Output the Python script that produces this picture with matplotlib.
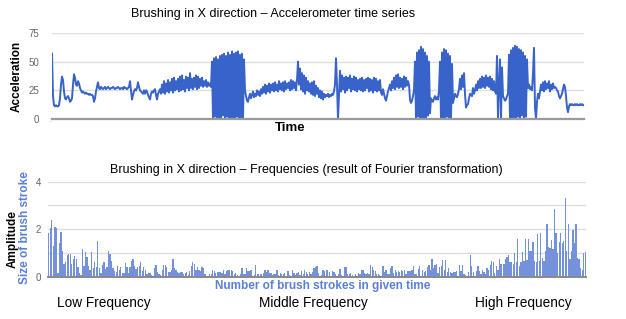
import numpy as np
import matplotlib
matplotlib.use("Agg")
import matplotlib.pyplot as plt

plt.rcParams['font.family'] = ['Liberation Sans', 'DejaVu Sans']

W, H = 626, 319

# accelerometer samples at one value per pixel column
accel = (
    [57]
    + [20, 12, 11, 12, 11, 11, 12]
    + [18, 30, 37, 34]
    + [24, 18, 17, 19]
    + [20, 18, 15, 16]
    + [18, 30, 39, 36]
    + [30, 29, 33, 31]
    + [27, 25, 23, 24, 23, 22]
    + [23, 22, 22, 21, 22, 21, 21, 20]
    + [15, 18, 24, 28, 32, 27]
    + [26, 28, 27, 26, 27, 28, 26, 27, 28, 27, 26, 27, 27, 28, 27,
       26, 27, 27, 28, 27, 26, 27, 27, 26, 28, 27, 27, 26, 27, 28]
    + [33, 25, 17, 21, 24, 26, 25, 27, 32, 28]
    + [25, 24, 23, 22, 25, 22, 25, 24, 21, 19, 17, 22, 24, 23, 25,
       26, 21, 17, 22, 24, 26, 22]
    + [30, 23, 33, 22, 31, 24, 34, 23, 32, 25, 35, 23, 36, 25, 33,
       26, 35, 24, 37, 25, 38, 26, 34, 24, 37, 27, 36, 25, 40, 27,
       35, 26, 36, 28, 38, 26, 37, 27, 35, 29, 36, 28, 33, 29, 34,
       28, 32, 29, 31, 28]
    + [50, 0, 53, 2, 54, 0, 52, 1, 55, 0, 56, 3, 57, 0, 55, 2, 58,
       0, 56, 0, 59, 1, 57, 0, 58, 2, 59, 0, 56, 1, 57, 0, 52]
    + [25, 20, 16, 15, 19, 22, 18, 21, 24, 19, 22, 20, 25, 21, 24, 20, 26]
    + [22, 28, 23, 30, 22, 29, 24, 31, 23, 30, 25, 31, 24, 32, 25,
       30, 24, 33, 26, 31, 25, 32, 24, 33, 26, 31, 27, 32, 25, 34,
       26, 33, 27, 32, 25, 34]
    + [50, 30, 44, 26, 40, 24, 38, 22, 36, 25, 33, 24, 31, 22, 32,
       21, 33, 20, 29, 22, 27, 19, 25, 18, 24, 17]
    + [22, 19, 21, 20, 22, 19, 21, 20, 22, 21, 24, 30]
    + [53, 30, 0, 20]
    + [42, 24, 38, 26, 36, 23, 37, 25, 36, 27, 38, 24, 35, 26, 37,
       25, 36, 24, 34, 26, 35, 25, 36, 24, 34, 25, 35, 27, 36, 24,
       35, 25, 34, 23, 36, 25, 35, 24, 33, 25, 34, 23]
    + [21, 26, 22, 18, 16, 20, 24, 27]
    + [30, 25, 33, 27, 36, 26, 38, 28, 39, 27, 36, 28, 35, 26, 37,
       28, 36, 29, 33, 30]
    + [17, 14, 16, 20, 25]
    + [50, 0, 58, 2, 60, 0, 63, 0, 61, 1, 58, 0, 55, 3, 50, 5]
    + [18, 16, 15, 18, 20, 17, 19, 17, 25]
    + [50, 0, 58, 1, 61, 0, 60, 2, 57, 0, 55, 0, 48]
    + [14, 18, 22, 20, 19, 22, 26]
    + [35, 26, 38, 28, 40, 22]
    + [10, 12, 13, 18, 22, 21]
    + [20, 27, 22, 25, 30, 25, 33, 27, 35, 27, 37, 28, 36, 27, 38,
       29, 36, 28, 37, 26, 35, 25, 33, 24, 22]
    + [55, 0, 30, 52, 0, 45, 20]
    + [18, 16, 17, 20, 22]
    + [56, 0, 60, 0, 62, 1, 64, 0, 63, 2, 61, 0, 60, 3, 58, 0, 55, 2, 52]
    + [27, 30, 26, 28, 25]
    + [40, 62, 10, 0, 15]
    + [22, 18, 24, 30, 25, 32, 24, 33, 26, 31, 27, 33, 24, 30, 26, 31, 27, 28]
    + [27, 25, 24, 20, 18, 20, 22, 26, 30, 28, 20, 10]
    + [6, 11, 13, 12, 13, 12, 12, 13, 12, 13, 12, 12, 13, 12, 13, 12, 12]
)

# Fourier amplitudes, low -> high frequency
amp_low = [
    1.85, 2.03, 2.39, 1.3, 2.08, 2.03, 0.14, 1.4, 1.9, 1.08,
    0.53, 0.6, 0.9, 0.95, 0.95, 0.53, 0.74, 0.87, 0.73, 0.4,
    0.14, 0.07, 1.15, 0.45, 1.05, 0.81, 0.45, 0.28, 1.05, 0.35,
    0.6, 0.4, 1.5, 0.35, 0.17, 0.49, 0.6, 0.31, 0.4, 1.08,
    0.95, 0.66, 0.35, 0.25, 0.21, 0.45, 0.28, 0.4, 0.17, 0.14,
    0.56, 0.4, 0.17, 0.42, 0.66, 0.73, 0.45, 0.31, 0.4, 0.45,
    0.6, 0.25, 0.4, 0.28, 0.11, 0.17, 0.14, 0.07, 0.03, 0.35,
    0.49, 0.21, 0.11, 0.07, 0.28, 0.49, 0.49, 0.4, 0.21, 0.21,
    0.28, 0.73, 0.35, 0.28, 0.21, 0.17,
]
amp_mid1 = [
    0.2, 0.2, 0.1, 0.15, 0.2, 0.08, 0.25, 0.45, 0.63, 0.55,
    0.3, 0.4, 0.3, 0.22, 0.42, 0.35, 0.1, 0.05, 0.05, 0.12,
    0.1, 0.28, 0.22, 0.15, 0.2, 0.18, 0.2, 0.15, 0.28, 0.1,
    0.25, 0.3, 0.3, 0.28, 0.25, 0.12, 0.15, 0.08, 0.05, 0.12,
    0.38, 0.1, 0.12, 0.35, 0.25, 0.25, 0.28, 0.05, 0.08, 0.48,
    0.12, 0.1, 0.12, 0.1, 0.15, 0.3, 0.18, 0.3, 0.15, 0.15,
    0.08, 0.1, 0.1, 0.3, 0.08, 0.15, 0.12, 0.1, 0.15, 0.05,
    0.25, 0.08, 0.05, 0.3, 0.15, 0.08, 0.15, 0.2, 0.08, 0.25,
    0.12, 0.28, 0.18, 0.1, 0.2, 0.1, 0.2, 0.35,
]
amp_mid2 = [
    0.42, 0.45, 0.15, 0.05, 0.08, 0.28, 0.22, 0.28, 0.3, 0.18,
    0.05, 0.25, 0.2, 0.1, 0.05, 0.1, 0.32, 0.08, 0.05, 0.42,
    0.42, 0.1, 0.12, 0.15, 0.08, 0.05, 0.1, 0.05, 0.15, 0.12,
    0.3, 0.28, 0.15, 0.12, 0.15, 0.1, 0.5, 0.4, 0.28, 0.22,
    0.12, 0.1, 0.08, 0.05, 0.45, 0.2, 0.3, 0.1, 0.12, 0.38,
    0.45, 0.15, 0.28, 0.2, 0.25, 0.2, 0.3, 0.22, 0.28, 0.1,
    0.22, 0.25, 0.25, 0.3, 0.45, 0.12, 0.1, 0.32, 0.45, 0.05,
    0.3, 0.2, 0.25, 0.42, 0.5, 0.3, 0.75, 0.35, 0.5, 0.52,
    0.15, 0.42, 0.45, 0.7, 0.3, 0.7, 0.2, 0.38,
]
amp_high = [
    0.2, 0.15, 0.18, 0.2, 0.22, 0.05, 0.5, 0.25, 0.5, 0.12,
    0.08, 0.05, 0.18, 0.92, 0.45, 0.2, 0.05, 0.25, 0.45, 0.25,
    0.12, 0.28, 0.2, 0.12, 0.38, 0.3, 0.5, 0.65, 0.6, 0.15,
    0.45, 0.3, 0.75, 0.55, 0.05, 0.55, 0.75, 0.82, 0.92, 0.6,
    0.6, 0.55, 1.0, 0.6, 1.6, 0.45, 0.6, 1.02, 0.65, 1.6,
    0.7, 1.6, 1.1, 1.1, 1.45, 0.65, 0.62, 1.8, 0.65, 1.85,
    0.8, 0.65, 1.1, 2.2, 1.25, 1.2, 1.55, 1.15, 2.85, 1.85,
    1.0, 1.45, 1.82, 1.4, 1.5, 3.3, 1.1, 2.2, 0.75, 1.1,
    1.95, 1.4, 2.2, 0.8, 0.75, 0.35, 0.3, 1.0, 1.05,
]
amplitude = amp_low + amp_mid1 + amp_mid2 + amp_high

band_labels = ["Low Frequency", "Middle Frequency", "High Frequency"]
band_centers = [104, 313, 523]

LINE = '#3863c9'
BAR = '#7492dc'
BLUE_TXT = '#5b80d8'
GRID = '#dedede'


def fx(x):
    return x / W


def fy(y):
    return 1 - y / H


fig = plt.figure(figsize=(W / 100, H / 100), dpi=100)

# --- top: time series ---
ax1 = fig.add_axes([fx(52), fy(119), fx(584) - fx(52), fy(33) - fy(119)])
t = np.arange(len(accel))
ax1.plot(t, accel, color=LINE, lw=1.4)
ax1.set_xlim(0, len(accel) - 1)
ax1.set_ylim(0, 75)
ax1.set_yticks([0, 25, 50, 75])
ax1.set_xticks([])
for v in [25, 50, 75]:
    ax1.axhline(v, color=GRID, lw=1, zorder=0)
ax1.axhline(0, color='#9a9a9a', lw=1.6, zorder=3, clip_on=False)
for s in ax1.spines.values():
    s.set_visible(False)
ax1.tick_params(axis='y', length=0, labelsize=7, labelcolor='#666666', pad=9)

# --- bottom: frequencies ---
ax2 = fig.add_axes([fx(48), fy(276.7), fx(586) - fx(48), fy(181.7) - fy(276.7)])
f = np.arange(len(amplitude))
ax2.bar(f, amplitude, width=0.85, color=BAR, linewidth=0, zorder=2)
ax2.set_xlim(-0.5, len(amplitude) - 0.5)
ax2.set_ylim(0, 4)
ax2.set_yticks([0, 1, 2, 3, 4])
ax2.set_yticklabels(['0', '', '2', '', '4'])
ax2.set_xticks([])
for v in [1, 2, 3, 4]:
    ax2.axhline(v, color=GRID, lw=1, zorder=0)
ax2.axhline(0, color='#888888', lw=1.4, zorder=3, clip_on=False)
for s in ax2.spines.values():
    s.set_visible(False)
ax2.tick_params(axis='y', length=0, labelsize=7, labelcolor='#666666', pad=5)

# --- texts ---
fig.text(fx(273), fy(14), "Brushing in X direction \u2013 Accelerometer time series",
         ha='center', va='center', fontsize=9)
fig.text(fx(17), fy(76), "Acceleration", rotation=90, ha='center', va='center',
         fontsize=8.5, fontweight='bold')
fig.text(fx(290), fy(128), "Time", ha='center', va='center', fontsize=9.5,
         fontweight='bold')
fig.text(fx(50), fy(121), ".", ha='center', va='center', fontsize=6, color='#888888')

fig.text(fx(306), fy(170),
         "Brushing in X direction \u2013 Frequencies (result of Fourier transformation)",
         ha='center', va='center', fontsize=9)
fig.text(fx(12.5), fy(239), "Amplitude", rotation=90, ha='center', va='center',
         fontsize=8.5, fontweight='bold')
fig.text(fx(25), fy(228), "Size of brush stroke", rotation=90, ha='center',
         va='center', fontsize=8.5, fontweight='bold', color=BLUE_TXT)
fig.text(fx(323), fy(286), "Number of brush strokes in given time", ha='center',
         va='center', fontsize=8.5, fontweight='bold', color=BLUE_TXT)
for lab, cx in zip(band_labels, band_centers):
    fig.text(fx(cx), fy(302.5), lab, ha='center', va='center', fontsize=9.8)

fig.savefig("out.png", dpi=100, facecolor='white')
